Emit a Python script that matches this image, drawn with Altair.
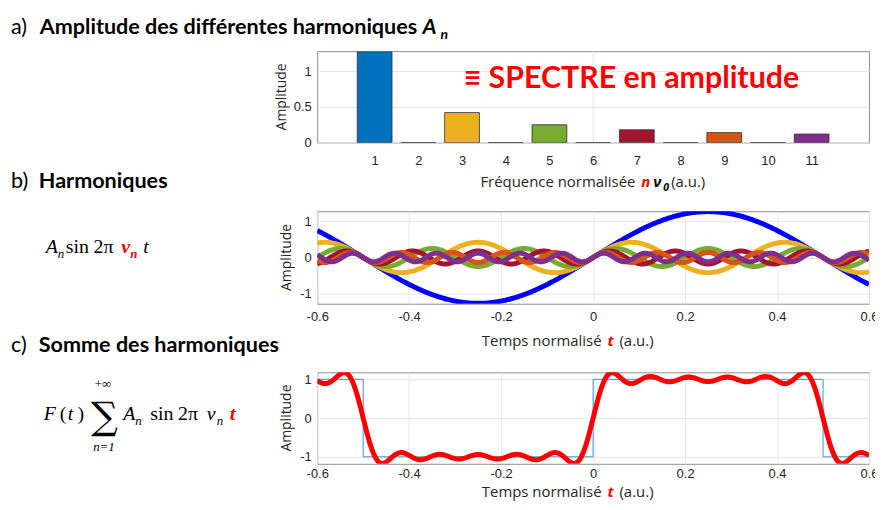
import altair as alt
import pandas as pd

# ---------------- data ----------------
harm_n = [1, 2, 3, 4, 5, 6, 7, 8, 9, 10, 11]
harm_amp = [1.27, 0, 0.42, 0, 0.25, 0, 0.18, 0, 0.14, 0, 0.12]
harm_color = ["#0072BD", "#D95319", "#EDB120", "#7E2F8E", "#77AC30", "#4DBEEE",
              "#A2142F", "#0072BD", "#D95319", "#EDB120", "#7E2F8E"]

odd_n = [1, 3, 5, 7, 9, 11]
odd_amp = [1.27, 0.42, 0.25, 0.18, 0.14, 0.12]
odd_color = ["#0000FF", "#EDB120", "#77AC30", "#A2142F", "#D95319", "#7E2F8E"]

sq_t = [-0.6, -0.5, -0.5, 0, 0, 0.5, 0.5, 0.6]
sq_v = [1, 1, -1, -1, 1, 1, -1, -1]

x_ticks_a = [1, 2, 3, 4, 5, 6, 7, 8, 9, 10, 11]
y_ticks_a = [0, 0.5, 1]
t_ticks = [-0.6, -0.4, -0.2, 0, 0.2, 0.4, 0.6]
y_ticks_bc = [-1, 0, 1]

W = 555
HA, HB, HC = 92, 93, 92
LBL = "replace(format(datum.value, ''), '\u2212', '-')"
TITLE_FONT = "Lato"
AX_FONT = "Open Sans"
MATH_FONT = "Liberation Serif"
TS = 21.7  # title size
MS = 20    # math size
SS = 13    # math subscript size


def label(s, x, y, size, color="#000000", weight="normal", style="normal",
          font=TITLE_FONT, align="left", baseline="alphabetic", angle=0):
    return alt.Chart(alt.Data(values=[{"k": 0}])).mark_text(
        text=s, fontSize=size, color=color, fontWeight=weight, fontStyle=style,
        font=font, align=align, baseline=baseline, angle=angle
    ).encode(x=alt.value(x), y=alt.value(y))


def xtitle_time(yb):
    return [
        label("Temps normalisé", 286, yb, 15, font=AX_FONT, align="right", color="#262626"),
        label("t", 292, yb, 15, color="#FF0000", weight="bold", style="italic", font=AX_FONT),
        label("(a.u.)", 304, yb, 15, font=AX_FONT, color="#262626"),
    ]


def time_x(pad):
    return alt.X("t:Q", scale=alt.Scale(domain=[-0.6, 0.6], nice=False, zero=False),
                 axis=alt.Axis(values=t_ticks, grid=True, labelPadding=pad, title=None,
                               labelFlush=False, labelOverlap=False, labelExpr=LBL))


# invisible corner that fixes the top-left of the whole figure
anchor = alt.Chart(alt.Data(values=[{"k": 0}])).mark_rule(strokeWidth=0, color="white").encode(
    x=alt.value(-310), x2=alt.value(-310), y=alt.value(-41), y2=alt.value(-41))

# ---------------- panel a : spectrum ----------------
df_a = pd.DataFrame({"n": harm_n, "amp": harm_amp, "color": harm_color})
xa = alt.X("n:Q", scale=alt.Scale(domain=[-0.2, 12.2], nice=False, zero=False),
           axis=alt.Axis(values=x_ticks_a, grid=False, labelPadding=12, title=None,
                         labelFlush=False, labelOverlap=False, labelExpr=LBL))
ya = alt.Y("amp:Q", scale=alt.Scale(domain=[0, 1.278], nice=False),
           axis=alt.Axis(values=y_ticks_a, grid=True, title=None, labelPadding=6,
                         labelExpr=LBL, labelFlush=False))
rule6 = alt.Chart(pd.DataFrame({"n": [6]})).mark_rule(color="#e3e3e3").encode(x=alt.X("n:Q"))
bars = alt.Chart(df_a).mark_bar(size=35, stroke="#333333", strokeWidth=0.8, clip=True).encode(
    x=xa, y=ya, color=alt.Color("color:N", scale=None))

panel_a = alt.layer(
    rule6, bars, anchor,
    label("≡ SPECTRE en amplitude", 316, 37, 30.5, color="#FF0000", weight="bold", align="center"),
    label("a)", -308, -17, TS),
    label("Amplitude des différentes harmoniques", -279, -17, TS, weight="bold"),
    label("A", 106, -17, TS, weight="bold", style="italic"),
    label("n", 124, -12, 14, weight="bold", style="italic"),
    label("Amplitude", -35.5, HA / 2, 14, font=AX_FONT, align="center", baseline="middle",
          angle=270, color="#262626"),
    label("Fréquence normalisée", 320, 137, 15, font=AX_FONT, align="right", color="#262626"),
    label("n", 326, 137, 15, color="#FF0000", weight="bold", style="italic", font=AX_FONT),
    label("ν", 338, 137, 15, weight="bold", style="italic", font=AX_FONT),
    label("0", 348, 141, 10.5, weight="bold", style="italic", font=AX_FONT),
    label("(a.u.)", 356, 137, 15, font=AX_FONT, color="#262626"),
).properties(width=W, height=HA)

# ---------------- panel b : harmonics ----------------
calc = {f"h{n}": f"{a}*sin(2*PI*{n}*datum.t)" for n, a in zip(odd_n, odd_amp)}
keys = [f"h{n}" for n in odd_n]

lines_b = alt.Chart(alt.sequence(-0.6, 0.6005, 0.002, as_="t")).transform_calculate(
    **calc).transform_fold(keys, as_=["h", "v"]).mark_line(strokeWidth=5, clip=True).encode(
    x=time_x(7),
    y=alt.Y("v:Q", scale=alt.Scale(domain=[-1.28, 1.28], nice=False),
            axis=alt.Axis(values=y_ticks_bc, grid=True, title=None, labelPadding=6,
                          labelExpr=LBL, labelFlush=False)),
    color=alt.Color("h:N", scale=alt.Scale(domain=keys, range=odd_color), legend=None),
)

panel_b = alt.layer(
    lines_b,
    label("b)", -308, -23, TS),
    label("Harmoniques", -280, -23, TS, weight="bold"),
    label("A", -273, 42, MS, style="italic", font=MATH_FONT),
    label("n", -261, 47, SS, style="italic", font=MATH_FONT),
    label("sin", -253, 42, MS, font=MATH_FONT),
    label("2π", -225, 42, MS, font=MATH_FONT),
    label("ν", -197, 42, MS, color="#FF0000", weight="bold", style="italic", font=MATH_FONT),
    label("n", -188, 47, SS, color="#FF0000", weight="bold", style="italic", font=MATH_FONT),
    label("t", -175, 42, MS, style="italic", font=MATH_FONT),
    label("Amplitude", -30.5, HB / 2, 14, font=AX_FONT, align="center", baseline="middle",
          angle=270, color="#262626"),
    *xtitle_time(136),
).properties(width=W, height=HB)

# ---------------- panel c : sum ----------------
sum_expr = "+".join(f"{a}*sin(2*PI*{n}*datum.t)" for n, a in zip(odd_n, odd_amp))
df_sq = pd.DataFrame({"t": sq_t, "v": sq_v, "i": list(range(len(sq_t)))})

xc = time_x(4)
ysc = alt.Y("v:Q", scale=alt.Scale(domain=[-1.18, 1.18], nice=False),
            axis=alt.Axis(values=y_ticks_bc, grid=True, title=None, labelPadding=6,
                          labelExpr=LBL, labelFlush=False))
square = alt.Chart(df_sq).mark_line(color="#3d8fd1", strokeWidth=1).encode(
    x=xc, y=ysc, order="i:Q")
sumline = alt.Chart(alt.sequence(-0.6, 0.6005, 0.002, as_="t")).transform_calculate(
    v=sum_expr).mark_line(color="#FF0000", strokeWidth=5, clip=True).encode(x=xc, y=ysc)

panel_c = alt.layer(
    square, sumline,
    label("c)", -308, -20, TS),
    label("Somme des harmoniques", -280, -20, TS, weight="bold"),
    label("F", -275, 48, MS, style="italic", font=MATH_FONT),
    label("(", -259, 48, MS, font=MATH_FONT),
    label("t", -251, 48, MS, style="italic", font=MATH_FONT),
    label(")", -241, 48, MS, font=MATH_FONT),
    label("∑", -214, 57, 38, font="DejaVu Serif", align="center"),
    label("+∞", -215.5, 16, 13, font=MATH_FONT, align="center"),
    label("n=1", -214.5, 79, 13, font=MATH_FONT, align="center", style="italic"),
    label("A", -195, 48, MS, style="italic", font=MATH_FONT),
    label("n", -183, 53, SS, style="italic", font=MATH_FONT),
    label("sin", -168, 48, MS, font=MATH_FONT),
    label("2π", -140, 48, MS, font=MATH_FONT),
    label("ν", -111, 48, MS, style="italic", font=MATH_FONT),
    label("n", -101, 53, SS, style="italic", font=MATH_FONT),
    label("t", -88, 48, MS, color="#FF0000", weight="bold", style="italic", font=MATH_FONT),
    label("Amplitude", -30.5, HC / 2, 14, font=AX_FONT, align="center", baseline="middle",
          angle=270, color="#262626"),
    *xtitle_time(125),
).properties(width=W, height=HC)

chart = alt.vconcat(panel_a, panel_b, panel_c, spacing=69, bounds="flush").properties(
    padding={"left": 0, "top": 0, "right": -4, "bottom": -1}, background="white"
).configure_view(stroke="#8c8c8c", strokeWidth=1).configure_axis(
    domain=False, ticks=False, labelFont="Liberation Sans", labelFontSize=13,
    labelColor="#262626", gridColor="#e5e5e5", gridWidth=1
)

chart.save("out.html", embed_options={"renderer": "svg", "actions": False})
